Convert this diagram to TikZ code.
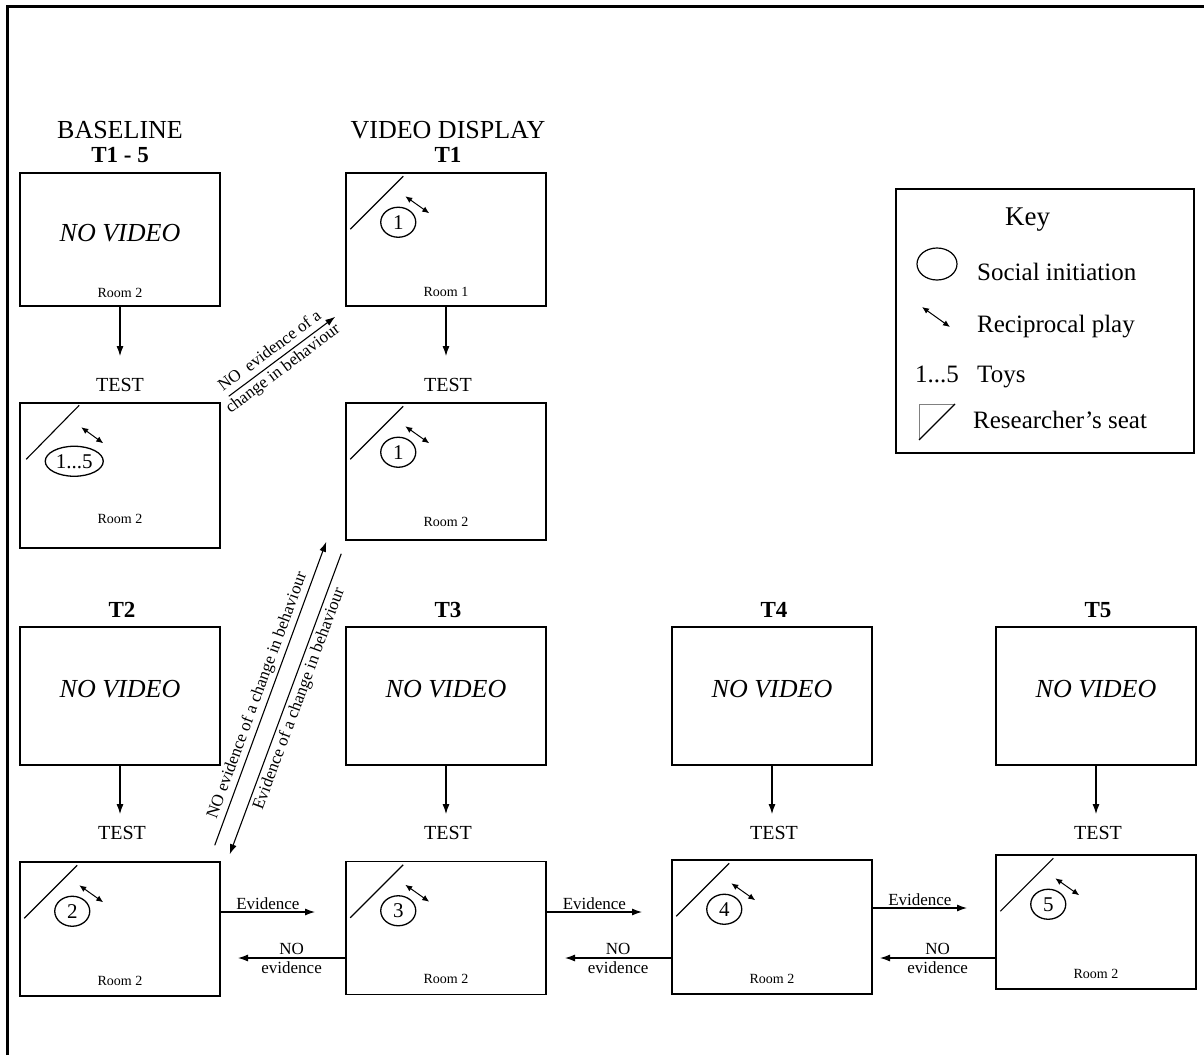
\documentclass[tikz,border=0pt]{standalone}
\usepackage{fontspec}
\setmainfont{Liberation Serif}
\usetikzlibrary{arrows.meta,positioning,calc,shapes.geometric}

\begin{document}
\begin{tikzpicture}[
    x=1pt, y=-1pt,
    panel/.style={draw, line width=1.5pt, minimum width=200pt, inner sep=0pt},
    head/.style={font=\fontsize{26}{28}\selectfont, inner sep=0pt},
    trial/.style={font=\fontsize{23}{25}\selectfont\bfseries, inner sep=0pt},
    testlbl/.style={font=\fontsize{20}{22}\selectfont, inner sep=0pt},
    novid/.style={font=\fontsize{26}{28}\selectfont\itshape, inner sep=0pt},
    roomlbl/.style={font=\fontsize{14}{16}\selectfont, inner sep=0pt},
    lbl/.style={font=\fontsize{17}{18}\selectfont, inner sep=1.5pt},
    twoline/.style={font=\fontsize{17}{19}\selectfont, align=center, inner sep=0pt},
    dlbl/.style={lbl, sloped, inner sep=3pt},
    keytxt/.style={font=\fontsize{25}{27}\selectfont, inner sep=0pt, anchor=base west},
    arr/.style={-{Latex[length=10pt,width=7pt]}, line width=1.1pt},
    vdown/.style={arr, shorten >=#1},
    twoway/.style={{Latex[length=7pt,width=6pt]}-{Latex[length=7pt,width=6pt]}, line width=1pt},
    seat/.style={line width=1.1pt},
    toy/.style={draw, ellipse, line width=1.3pt, minimum width=35pt, minimum height=30pt,
      inner sep=0pt, font=\fontsize{21}{23}\selectfont}
  ]
    \useasboundingbox (0,0) rectangle (1204,1055);
    \draw[line width=3pt] (7,1055) -- (7,6) -- (1204,6);

    % top part: baseline and video display
    \node[panel, minimum height=133pt] (base) at (120,239.5) {};
    \node[panel, minimum height=145pt] (btest) at (120,475.5) {};
    \node[panel, minimum height=133pt] (vid) at (446,239.5) {};
    \node[panel, minimum height=137pt] (vtest) at (446,471.5) {};
    \node[head] (baseH) at (120,130) {BASELINE};
    \node[trial] (baseT) at (120,155) {T1 - 5};
    \node[head] (vidH) at (448,130) {VIDEO DISPLAY};
    \node[trial] (vidT) at (448,155) {T1};
    \node[testlbl] (btestlbl) at (120,385) {TEST};
    \node[testlbl] (vtestlbl) at (448,385) {TEST};
    \node[novid] (baseNV) at ([yshift=6pt]base.center) {NO VIDEO};
    \node[roomlbl] (baseR) at ([yshift=14pt]base.south) {Room 2};
    \node[roomlbl] (vidR) at ([yshift=15pt]vid.south) {Room 1};
    \node[roomlbl] (btestR) at ([yshift=30pt]btest.south) {Room 2};
    \node[roomlbl] (vtestR) at ([yshift=19pt]vtest.south) {Room 2};
    \draw[vdown=22pt] (base.south) -- (base.south |- btestlbl.north);
    \draw[vdown=22pt] (vid.south) -- (vid.south |- vtestlbl.north);

    % baseline test: all toys
    \draw[seat] ($(btest.north west)+(7,57)$) -- ($(btest.north west)+(60,3)$);
    \node[toy, minimum width=58pt] (btesttoy) at ($(btest.north west)+(55,59)$) {1...5};
    \draw[twoway] ($(btest.north west)+(62,25)$) -- ($(btest.north west)+(84,41)$);

    % trials T2 - T5
    \foreach \bx/\bxx/\tn in {t2/120/2, t3/446/3, t4/772/4, t5/1096/5} {
      \node[panel, minimum height=138pt] (\bx) at (\bxx,696) {};
      \node[novid] (\bx nv) at ([yshift=7pt]\bx.center) {NO VIDEO};
      \node[trial] (\bx lbl) at (\bxx+2,610) {T\tn};
      \node[testlbl] (\bx testlbl) at (\bxx+2,833) {TEST};
      \draw[vdown=12pt] (\bx.south) -- (\bx.south |- \bx testlbl.north);
    }
    \node[panel, minimum height=134pt] (t2test) at (120,929) {};
    \node[panel, minimum height=133pt] (t3test) at (446,928) {};
    \node[panel, minimum height=134pt] (t4test) at (772,927) {};
    \node[panel, minimum height=134pt] (t5test) at (1096,922) {};

    % seat, toy and reciprocal play in each room
    \foreach \bx/\tn in {vid/1, vtest/1, t2test/2, t3test/3, t4test/4, t5test/5} {
      \draw[seat] ($(\bx.north west)+(5,57)$) -- ($(\bx.north west)+(58,4)$);
      \node[toy] (\bx toy) at ($(\bx.north west)+(53,50)$) {\tn};
      \draw[twoway] ($(\bx.north west)+(60,24)$) -- ($(\bx.north west)+(84,41)$);
    }
    \foreach \bx in {t2test, t3test, t4test, t5test}
      \node[roomlbl] (\bx R) at ([yshift=16pt]\bx.south) {Room 2};

    % diagonal transitions
    \draw[arr] ([xshift=8pt,yshift=6pt]btest.north east) --
      node[twoline, sloped, pos=0.45, font=\fontsize{17}{22}\selectfont]
        {NO~~evidence of a\\change in behaviour}
      ([xshift=-10pt,yshift=-10pt]vid.south west);
    \draw[arr] ([xshift=-6pt,yshift=16pt]t2test.north east) --
      node[dlbl, above, pos=0.48] {NO evidence of a change in behaviour}
      ([xshift=-19pt,yshift=-1pt]vtest.south west);
    \draw[arr] ([xshift=-4pt,yshift=-13pt]vtest.south west) --
      node[dlbl, below, pos=0.47] {Evidence of a change in behaviour}
      ([xshift=9pt,yshift=7pt]t2test.north east);

    % evidence / no evidence between tests
    \coordinate (ev1) at (315,912);
    \coordinate (ev2) at (642,912);
    \coordinate (ev3) at (967,908);
    \coordinate (ne1) at (238,958);
    \coordinate (ne2) at (565,958);
    \coordinate (ne3) at (880,958);
    \draw[arr] (t2test.east |- ev1) -- node[lbl, above] {Evidence} (ev1);
    \draw[arr] (t3test.east |- ev2) -- node[lbl, above] {Evidence} (ev2);
    \draw[arr] (t4test.east |- ev3) -- node[lbl, above] {Evidence} (ev3);
    \draw[arr] (t3test.west |- ne1) -- node[twoline] {NO\\evidence} (ne1);
    \draw[arr] (t4test.west |- ne2) -- node[twoline] {NO\\evidence} (ne2);
    \draw[arr] (t5test.west |- ne3) -- node[twoline] {NO\\evidence} (ne3);

    % key
    \node[panel, minimum width=298pt, minimum height=264pt] (key) at (1045,321) {};
    \node[keytxt, font=\fontsize{27}{29}\selectfont] (keyttl) at (1005,225) {Key};
    \node[draw, ellipse, line width=1.2pt, minimum width=40pt, minimum height=32pt] (keyring) at (937,264) {};
    \node[keytxt] (keysoc) at (977,280) {Social initiation};
    \coordinate (kpa) at (922,307);
    \coordinate (kpb) at (950,327);
    \draw[twoway] (kpa) -- (kpb);
    \node[keytxt] (keyrec) at (977,332) {Reciprocal play};
    \node[keytxt] (keynum) at (915,382) {1...5};
    \node[keytxt] (keytoy) at (977,382) {Toys};
    \coordinate (ksa) at (919,440);
    \coordinate (ksb) at (919,404);
    \coordinate (ksc) at (955,404);
    \draw[line width=0.6pt, gray] (ksa) -- (ksb) -- (ksc);
    \draw[seat] (ksa) -- (ksc);
    \node[keytxt] (keyres) at (973,428) {Researcher's seat};
\end{tikzpicture}
\end{document}
